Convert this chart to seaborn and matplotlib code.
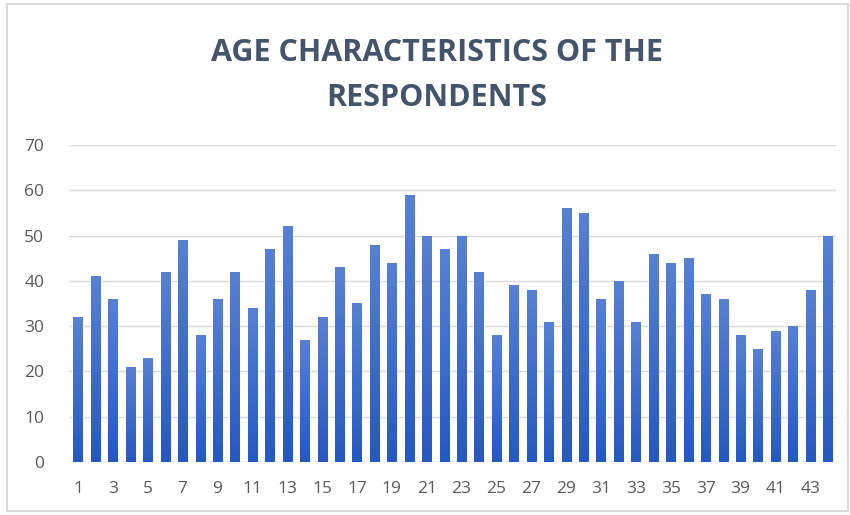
import numpy as np
import pandas as pd
import seaborn as sns
import matplotlib.pyplot as plt
from matplotlib.colors import LinearSegmentedColormap

# respondent number and age
respondents = list(range(1, 45))
ages = [32, 41, 36, 21, 23, 42, 49, 28, 36, 42, 34, 47, 52, 27, 32,
        43, 35, 48, 44, 59, 50, 47, 50, 42, 28, 39, 38, 31, 56, 55,
        36, 40, 31, 46, 44, 45, 37, 36, 28, 25, 29, 30, 38, 50]
y_ticks = [0, 10, 20, 30, 40, 50, 60, 70]

df = pd.DataFrame({"respondent": respondents, "age": ages})

sns.set_style("white")
plt.rcParams['font.family'] = ['Open Sans', 'DejaVu Sans']

fig = plt.figure(figsize=(8.5, 5.15), dpi=100)
ax = fig.add_axes([0.0815, 0.103, 0.9025, 0.6155])

sns.barplot(data=df, x="respondent", y="age", color="#3F6CC5",
            width=0.52, saturation=1, ax=ax)

# gradient fill, lighter at the top like the office chart
cmap = LinearSegmentedColormap.from_list("bar", ["#2558C0", "#5881D3"])
grad = np.linspace(0, 1, 256).reshape(-1, 1)
for p in ax.patches:
    x0, y0 = p.get_x(), p.get_y()
    w, h = p.get_width(), p.get_height()
    p.set_facecolor("none")
    im = ax.imshow(grad, cmap=cmap, origin="lower", aspect="auto",
                   extent=[x0, x0 + w, y0, y0 + h], zorder=2)
    im.set_clip_path(p)
ax.set_xlim(-0.5, len(respondents) - 0.5)
ax.set_ylim(0, 70)

ax.set_yticks(y_ticks)
ax.set_yticklabels([str(t) for t in y_ticks], fontsize=12.5, color="#595959")
ax.set_xticks(range(len(respondents)))
ax.set_xticklabels([str(r) if r % 2 == 1 else "" for r in respondents],
                   fontsize=12.5, color="#595959")
ax.tick_params(axis="y", length=0, pad=18)
ax.tick_params(axis="x", length=0, pad=14)
ax.set_xlabel("")
ax.set_ylabel("")
ax.grid(axis="y", color="#D9D9D9", linewidth=1)
ax.set_axisbelow(True)
for s in ax.spines.values():
    s.set_visible(False)
ax.axhline(0, color="#D9D9D9", linewidth=1, zorder=1)

fig.text(0.514, 0.897, "AGE CHARACTERISTICS OF THE", ha="center", va="center",
         fontsize=22, fontweight="bold", color="#44546A")
fig.text(0.514, 0.810, "RESPONDENTS", ha="center", va="center",
         fontsize=22, fontweight="bold", color="#44546A")

# light frame round the chart
fig.add_artist(plt.Rectangle((0.008, 0.008), 0.99, 0.985, transform=fig.transFigure,
                             fill=False, edgecolor="#D9D9D9", linewidth=1.5))

fig.savefig("out.png", dpi=100)
